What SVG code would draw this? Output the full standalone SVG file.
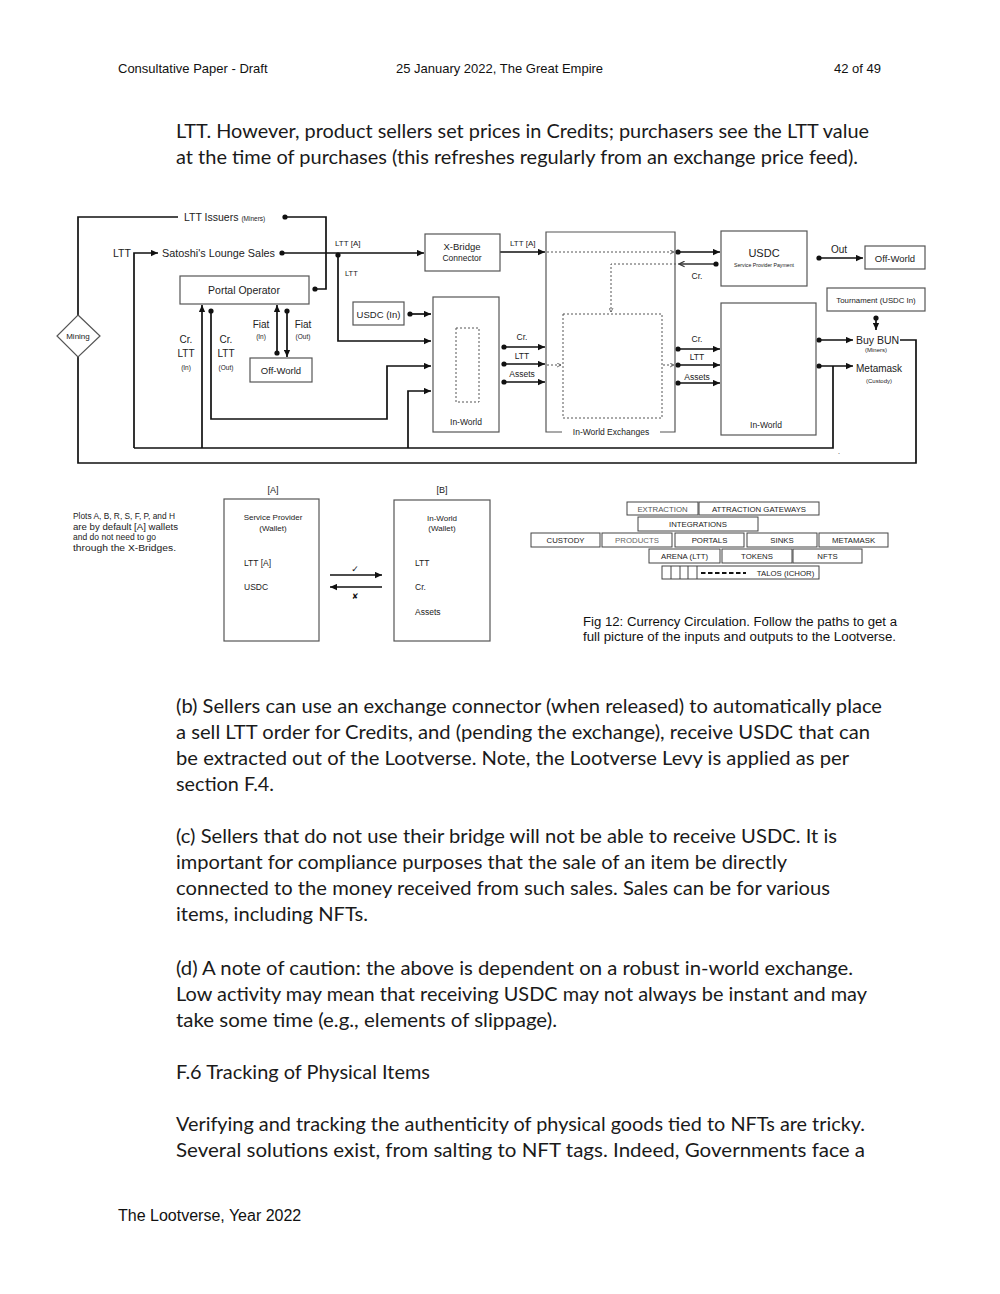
<svg xmlns="http://www.w3.org/2000/svg" width="1000" height="1294" viewBox="0 0 1000 1294">
<defs>
<marker id="ah" viewBox="0 0 10 10" refX="10" refY="5" markerWidth="7" markerHeight="7" markerUnits="userSpaceOnUse" orient="auto"><path d="M0,0.5 L10,5 L0,9.5 z" fill="#111"/></marker>
<marker id="ch" viewBox="0 0 10 10" refX="9" refY="5" markerWidth="5" markerHeight="5" markerUnits="userSpaceOnUse" orient="auto"><path d="M1,1 L9,5 L1,9" fill="none" stroke="#555" stroke-width="1.6"/></marker>
<marker id="chd" viewBox="0 0 10 10" refX="9" refY="5" markerWidth="7" markerHeight="7" markerUnits="userSpaceOnUse" orient="auto"><path d="M1,1 L9,5 L1,9" fill="none" stroke="#333" stroke-width="1.6"/></marker>
</defs>
<style>
.pg{font-family:"Liberation Sans",Arial,sans-serif;fill:#111}
.body{font-family:Lato,"Open Sans",sans-serif;font-size:19px;fill:#1a1a1a}
.d{font-family:"Liberation Sans",Arial,sans-serif;fill:#222}
.box{fill:#fff;stroke:#555;stroke-width:1.2}
.ln{fill:none;stroke:#111;stroke-width:1.7}
.ar{fill:none;stroke:#111;stroke-width:1.7;marker-end:url(#ah)}
.dt{fill:none;stroke:#555;stroke-width:1;stroke-dasharray:2,2}
.dta{fill:none;stroke:#555;stroke-width:1;stroke-dasharray:2,2;marker-end:url(#ch)}
.sb{fill:#fff;stroke:#444;stroke-width:1}
.st{font-family:"Liberation Sans",Arial,sans-serif;font-size:7.8px;fill:#222;text-anchor:middle}
</style>
<rect width="1000" height="1294" fill="#fff"/>

<g id="header">
<text class="pg" x="118" y="73" font-size="13">Consultative Paper - Draft</text>
<text class="pg" x="499.5" y="73" font-size="13" text-anchor="middle">25 January 2022, The Great Empire</text>
<text class="pg" x="881" y="73" font-size="13" text-anchor="end">42 of 49</text>
</g>

<g id="body-top">
<text class="body" x="176" y="138" textLength="693" lengthAdjust="spacingAndGlyphs">LTT. However, product sellers set prices in Credits; purchasers see the LTT value</text>
<text class="body" x="176" y="164" textLength="682" lengthAdjust="spacingAndGlyphs">at the time of purchases (this refreshes regularly from an exchange price feed).</text>
</g>

<g id="connectors">
<path class="ln" d="M285,217 H326 V289 H315"/>
<circle cx="285" cy="217" r="2.6" fill="#111"/>
<circle cx="315" cy="289" r="2.6" fill="#111"/>
<path class="ln" d="M178,217 H78 V315"/>
<path class="ln" d="M78,357 V463 H916 V340 H900"/>
<path class="ar" d="M134,448 V253 H158"/>
<path class="ln" d="M134,448 H833 V366"/>
<path class="ar" d="M408,448 V391 H431"/>
<path class="ar" d="M202,448 V305"/>
<path class="ar" d="M211,311 V419 H387 V366 H431"/>
<circle cx="211" cy="311" r="2.6" fill="#111"/>
<path class="ar" d="M277,353 V305"/>
<circle cx="277" cy="353" r="2.6" fill="#111"/>
<path class="ar" d="M287,311 V357"/>
<circle cx="287" cy="311" r="2.6" fill="#111"/>
<path class="ar" d="M282,253 H424"/>
<circle cx="282" cy="253" r="2.6" fill="#111"/>
<path class="ar" d="M338,253 V341 H431"/>
<circle cx="338" cy="255" r="2.6" fill="#111"/>
<path class="ar" d="M500,252 H545"/>
<path class="ar" d="M410,314 H431"/>
<circle cx="410" cy="314" r="2.6" fill="#111"/>
<path class="ar" d="M504,347 H545"/>
<path class="ar" d="M504,364 H545"/>
<path class="ar" d="M504,382 H545"/>
<circle cx="504" cy="347" r="2.6" fill="#111"/>
<circle cx="504" cy="364" r="2.6" fill="#111"/>
<circle cx="504" cy="382" r="2.6" fill="#111"/>
<path class="ar" d="M678,252 H720"/>
<circle cx="678" cy="252" r="2.6" fill="#111"/>
<path d="M716,264 H679" fill="none" stroke="#333" stroke-width="1.4" marker-end="url(#chd)"/>
<circle cx="716" cy="264" r="2.6" fill="#111"/>
<path class="ar" d="M678,349 H720"/>
<path class="ar" d="M678,365 H720"/>
<path class="ar" d="M678,383 H720"/>
<circle cx="678" cy="349" r="2.6" fill="#111"/>
<circle cx="678" cy="365" r="2.6" fill="#111"/>
<circle cx="678" cy="383" r="2.6" fill="#111"/>
<path class="ar" d="M819,258 H863"/>
<circle cx="819" cy="258" r="2.6" fill="#111"/>
<path class="ar" d="M876,317 V330"/>
<circle cx="876" cy="318" r="2.6" fill="#111"/>
<path class="ar" d="M819,340 H853"/>
<circle cx="819" cy="340" r="2.6" fill="#111"/>
<path class="ar" d="M819,366 H853"/>
<circle cx="819" cy="366" r="2.6" fill="#111"/>
<path class="dta" d="M434,366 H455"/>
<path class="dta" d="M480,366 H497"/>
<path class="dta" d="M547,365 H561"/>
<path class="dta" d="M663,365 H674"/>
<path class="dta" d="M547,252 H674"/>
<path class="dta" d="M680,264 H611 V312"/>
<path class="dt" d="M722,349 H752 M722,383 H752 M752,332 V383"/>
<path class="dta" d="M722,366 H813"/>
<path class="dta" d="M752,332 H813"/>
<path class="ar" d="M330,575 H382"/>
<path class="ar" d="M382,587 H330"/>
<path class="ar" d="M225,563 H241"/>
<path class="ar" d="M225,587 H241"/>
<path class="ar" d="M395,563 H411"/>
<path class="ar" d="M395,587 H411"/>
<path class="ar" d="M395,612 H411"/>
</g>

<g id="mining">
<polygon points="78,315 100,336 78,357 57,336" fill="#fff" stroke="#555" stroke-width="1.2"/>
<text class="d" x="78" y="339" font-size="8" text-anchor="middle">Mining</text>
</g>

<g id="ltt-issuers">
<text class="d" x="184" y="221" font-size="10.5">LTT Issuers <tspan font-size="6.5">(Miners)</tspan></text>
</g>
<g id="satoshi">
<text class="d" x="113" y="257" font-size="10.5">LTT</text>
<text class="d" x="162" y="257" font-size="10.5" textLength="113" lengthAdjust="spacingAndGlyphs">Satoshi's Lounge Sales</text>
</g>

<g id="portal-operator">
<rect class="box" x="180" y="276" width="129" height="28"/>
<text class="d" x="244" y="294" font-size="10.5" text-anchor="middle">Portal Operator</text>
</g>

<g id="labels-left">
<text class="d" x="186" y="343" font-size="10" text-anchor="middle">Cr.</text>
<text class="d" x="186" y="357" font-size="10" text-anchor="middle">LTT</text>
<text class="d" x="186" y="370" font-size="6.5" text-anchor="middle">(In)</text>
<text class="d" x="226" y="343" font-size="10" text-anchor="middle">Cr.</text>
<text class="d" x="226" y="357" font-size="10" text-anchor="middle">LTT</text>
<text class="d" x="226" y="370" font-size="6.5" text-anchor="middle">(Out)</text>
<text class="d" x="261" y="328" font-size="10" text-anchor="middle">Fiat</text>
<text class="d" x="261" y="339" font-size="6.5" text-anchor="middle">(In)</text>
<text class="d" x="303" y="328" font-size="10" text-anchor="middle">Fiat</text>
<text class="d" x="303" y="339" font-size="6.5" text-anchor="middle">(Out)</text>
<text class="d" x="335" y="246" font-size="8">LTT [A]</text>
<text class="d" x="345" y="276" font-size="7.5">LTT</text>
<text class="d" x="510" y="246" font-size="8">LTT [A]</text>
</g>

<g id="off-world-left">
<rect class="box" x="250" y="358" width="62" height="24"/>
<text class="d" x="281" y="374" font-size="9.5" text-anchor="middle">Off-World</text>
</g>

<g id="x-bridge">
<rect class="box" x="425" y="234" width="75" height="37"/>
<text class="d" x="462" y="250" font-size="9.5" text-anchor="middle">X-Bridge</text>
<text class="d" x="462" y="261" font-size="8.5" text-anchor="middle">Connector</text>
</g>

<g id="usdc-in">
<rect class="box" x="353" y="302" width="51" height="23"/>
<text class="d" x="378.5" y="318" font-size="9.5" text-anchor="middle">USDC (In)</text>
</g>

<g id="in-world-left">
<rect class="box" x="433" y="297" width="66" height="135"/>
<rect x="456" y="328" width="23" height="74" class="dt"/>
<text class="d" x="466" y="425" font-size="8.5" text-anchor="middle">In-World</text>
</g>

<g id="flow-labels-mid">
<text class="d" x="522" y="340" font-size="8.5" text-anchor="middle">Cr.</text>
<text class="d" x="522" y="359" font-size="8.5" text-anchor="middle">LTT</text>
<text class="d" x="522" y="377" font-size="8.5" text-anchor="middle">Assets</text>
</g>

<g id="in-world-exchanges">
<path d="M562,432 H546 V232 H675 V432 H660" fill="none" stroke="#555" stroke-width="1.2"/>
<rect x="563" y="314" width="99" height="104" class="dt"/>
<text class="d" x="611" y="435" font-size="8.5" text-anchor="middle">In-World Exchanges</text>
</g>

<g id="flow-labels-right">
<text class="d" x="697" y="279" font-size="8.5" text-anchor="middle">Cr.</text>
<text class="d" x="697" y="342" font-size="8.5" text-anchor="middle">Cr.</text>
<text class="d" x="697" y="360" font-size="8.5" text-anchor="middle">LTT</text>
<text class="d" x="697" y="380" font-size="8.5" text-anchor="middle">Assets</text>
</g>

<g id="usdc-payment">
<rect class="box" x="721" y="231" width="86" height="55"/>
<text class="d" x="764" y="257" font-size="11" text-anchor="middle">USDC</text>
<text class="d" x="764" y="267" font-size="5.2" text-anchor="middle">Service Provider Payment</text>
</g>

<g id="out-label">
<text class="d" x="839" y="253" font-size="10" text-anchor="middle">Out</text>
</g>

<g id="off-world-right">
<rect class="box" x="865" y="246" width="60" height="23"/>
<text class="d" x="895" y="262" font-size="9.5" text-anchor="middle">Off-World</text>
</g>

<g id="tournament">
<rect class="box" x="827" y="288" width="98" height="23"/>
<text class="d" x="876" y="303" font-size="7.8" text-anchor="middle">Tournament (USDC In)</text>
</g>

<g id="in-world-right">
<rect class="box" x="721" y="303" width="95" height="132"/>
<text class="d" x="766" y="428" font-size="8.5" text-anchor="middle">In-World</text>
</g>

<g id="buy-bun">
<text class="d" x="856" y="344" font-size="10.5">Buy BUN</text>
<text class="d" x="876" y="352" font-size="6" text-anchor="middle">(Miners)</text>
</g>
<g id="metamask">
<text class="d" x="856" y="372" font-size="10">Metamask</text>
<text class="d" x="879" y="383" font-size="6" text-anchor="middle">(Custody)</text>
<text class="d" x="838" y="454" font-size="7">.</text>
</g>

<g id="note">
<text class="d" x="73" y="519" font-size="8.5" fill="#333" textLength="102" lengthAdjust="spacingAndGlyphs">Plots A, B, R, S, F, P, and H</text>
<text class="d" x="73" y="529.5" font-size="8.5" fill="#333" textLength="105" lengthAdjust="spacingAndGlyphs">are by default [A] wallets</text>
<text class="d" x="73" y="540" font-size="8.5" fill="#333" textLength="83" lengthAdjust="spacingAndGlyphs">and do not need to go</text>
<text class="d" x="73" y="550.5" font-size="8.5" fill="#333" textLength="103" lengthAdjust="spacingAndGlyphs">through the X-Bridges.</text>
</g>

<g id="wallet-a">
<text class="d" x="273" y="493" font-size="9" text-anchor="middle">[A]</text>
<rect class="box" x="224" y="499" width="95" height="142"/>
<text class="d" x="273" y="520" font-size="8" text-anchor="middle">Service Provider</text>
<text class="d" x="273" y="531" font-size="8" text-anchor="middle">(Wallet)</text>
<text class="d" x="244" y="566" font-size="8.5">LTT [A]</text>
<text class="d" x="244" y="590" font-size="8.5">USDC</text>
</g>

<g id="check-marks">
<text x="355" y="572" font-family="DejaVu Sans,sans-serif" font-size="9" font-weight="bold" text-anchor="middle" fill="#111">✓</text>
<text x="355" y="599" font-family="DejaVu Sans,sans-serif" font-size="8" font-weight="bold" text-anchor="middle" fill="#111">✘</text>
</g>

<g id="wallet-b">
<text class="d" x="442" y="493" font-size="9" text-anchor="middle">[B]</text>
<rect class="box" x="394" y="500" width="96" height="141"/>
<text class="d" x="442" y="521" font-size="8" text-anchor="middle">In-World</text>
<text class="d" x="442" y="531" font-size="8" text-anchor="middle">(Wallet)</text>
<text class="d" x="415" y="566" font-size="8.5">LTT</text>
<text class="d" x="415" y="590" font-size="8.5">Cr.</text>
<text class="d" x="415" y="615" font-size="8.5">Assets</text>
</g>

<g id="stack">
<rect class="sb" x="627" y="502" width="71" height="13"/><text class="st" x="662.5" y="511.5" style="fill:#555">EXTRACTION</text>
<rect class="sb" x="699" y="502" width="120" height="13"/><text class="st" x="759" y="511.5">ATTRACTION GATEWAYS</text>
<rect class="sb" x="638" y="517" width="120" height="14"/><text class="st" x="698" y="527">INTEGRATIONS</text>
<rect class="sb" x="531" y="533" width="69" height="14"/><text class="st" x="565.5" y="543">CUSTODY</text>
<rect class="sb" x="602" y="533" width="70" height="14"/><text class="st" x="637" y="543" style="fill:#666">PRODUCTS</text>
<rect class="sb" x="675" y="533" width="69" height="14"/><text class="st" x="709.5" y="543">PORTALS</text>
<rect class="sb" x="747" y="533" width="70" height="14"/><text class="st" x="782" y="543">SINKS</text>
<rect class="sb" x="819" y="533" width="69" height="14"/><text class="st" x="853.5" y="543">METAMASK</text>
<rect class="sb" x="649" y="549" width="71" height="14"/><text class="st" x="684.5" y="559">ARENA (LTT)</text>
<rect class="sb" x="722" y="549" width="70" height="14"/><text class="st" x="757" y="559">TOKENS</text>
<rect class="sb" x="793" y="549" width="69" height="14"/><text class="st" x="827.5" y="559">NFTS</text>
<rect class="sb" x="662" y="566" width="157" height="13"/>
<path d="M671,566 V579 M680,566 V579 M688,566 V579 M697,566 V579" stroke="#444" stroke-width="1"/>
<path d="M701,573 H746" stroke="#111" stroke-width="2.2" stroke-dasharray="4.5,2.5"/>
<text class="st" x="785.5" y="575.5">TALOS (ICHOR)</text>
</g>

<g id="caption">
<text class="pg" x="583" y="626" font-size="12.5" textLength="314" lengthAdjust="spacingAndGlyphs">Fig 12: Currency Circulation. Follow the paths to get a</text>
<text class="pg" x="583" y="641" font-size="12.5" textLength="313" lengthAdjust="spacingAndGlyphs">full picture of the inputs and outputs to the Lootverse.</text>
</g>

<g id="body-bottom">
<text class="body" x="176" y="713" textLength="706" lengthAdjust="spacingAndGlyphs">(b) Sellers can use an exchange connector (when released) to automatically place</text>
<text class="body" x="176" y="739" textLength="694" lengthAdjust="spacingAndGlyphs">a sell LTT order for Credits, and (pending the exchange), receive USDC that can</text>
<text class="body" x="176" y="765" textLength="673" lengthAdjust="spacingAndGlyphs">be extracted out of the Lootverse. Note, the Lootverse Levy is applied as per</text>
<text class="body" x="176" y="791" textLength="98" lengthAdjust="spacingAndGlyphs">section F.4.</text>
<text class="body" x="176" y="843" textLength="661" lengthAdjust="spacingAndGlyphs">(c) Sellers that do not use their bridge will not be able to receive USDC. It is</text>
<text class="body" x="176" y="869" textLength="611" lengthAdjust="spacingAndGlyphs">important for compliance purposes that the sale of an item be directly</text>
<text class="body" x="176" y="895" textLength="654" lengthAdjust="spacingAndGlyphs">connected to the money received from such sales. Sales can be for various</text>
<text class="body" x="176" y="921" textLength="192" lengthAdjust="spacingAndGlyphs">items, including NFTs.</text>
<text class="body" x="176" y="975" textLength="677" lengthAdjust="spacingAndGlyphs">(d) A note of caution: the above is dependent on a robust in-world exchange.</text>
<text class="body" x="176" y="1001" textLength="691" lengthAdjust="spacingAndGlyphs">Low activity may mean that receiving USDC may not always be instant and may</text>
<text class="body" x="176" y="1027" textLength="381" lengthAdjust="spacingAndGlyphs">take some time (e.g., elements of slippage).</text>
<text class="body" x="176" y="1079" textLength="254" lengthAdjust="spacingAndGlyphs">F.6 Tracking of Physical Items</text>
<text class="body" x="176" y="1131" textLength="689" lengthAdjust="spacingAndGlyphs">Verifying and tracking the authenticity of physical goods tied to NFTs are tricky.</text>
<text class="body" x="176" y="1157" textLength="689" lengthAdjust="spacingAndGlyphs">Several solutions exist, from salting to NFT tags. Indeed, Governments face a</text>
</g>

<g id="footer">
<text class="pg" x="118" y="1221" font-size="16">The Lootverse, Year 2022</text>
</g>
</svg>
